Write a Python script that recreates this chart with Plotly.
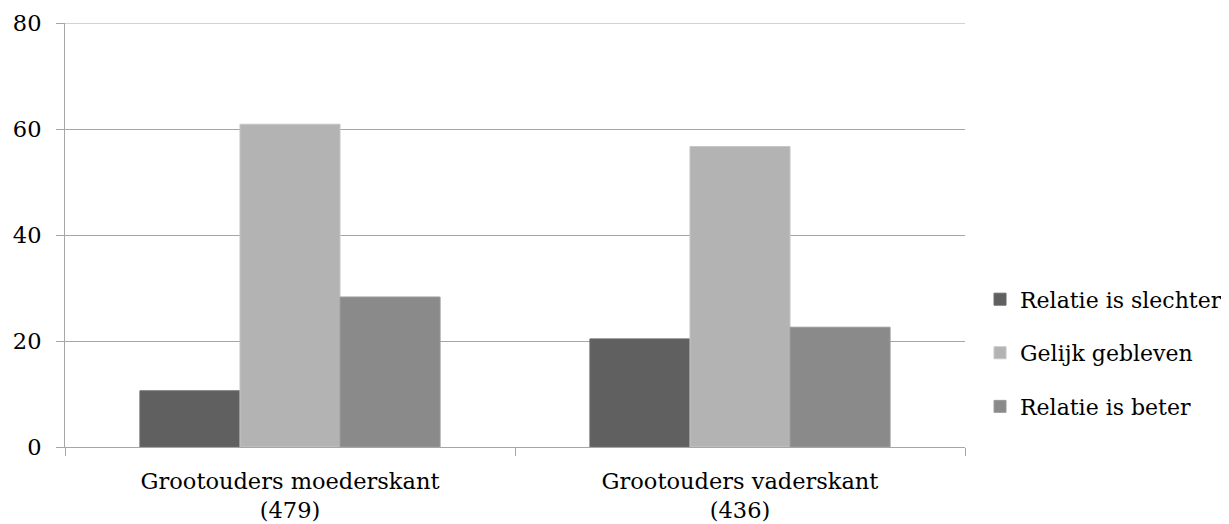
import plotly.graph_objects as go

categories = ["Grootouders moederskant<br>(479)", "Grootouders vaderskant<br>(436)"]
series_names = ["Relatie is slechter", "Gelijk gebleven", "Relatie is beter"]
slechter = [10.6, 20.4]
gelijk = [60.9, 56.7]
beter = [28.3, 22.6]
y_ticks = [0, 20, 40, 60, 80]

colors = ["#606060", "#b3b3b3", "#8a8a8a"]
line_colors = ["#6a6a6a", "#c6c6c6", "#9a9a9a"]
FONT = "DejaVu Serif"
GRID = "#a6a6a6"

fig = go.Figure()
for i, (name, vals) in enumerate(zip(series_names, [slechter, gelijk, beter])):
    fig.add_trace(go.Bar(
        x=categories, y=vals, name=name,
        marker=dict(color=colors[i], line=dict(color=line_colors[i], width=1)),
        legendgroup=f"g{i}",
    ))

# top gridline (plotly drops the gridline at the range edge)
fig.add_shape(type="line", xref="paper", yref="y", x0=0, x1=1, y0=80, y1=80,
              line=dict(color=GRID, width=1), layer="below")

# the page body has an 8px margin: the figure starts 8px right/down in the window
fig.update_layout(
    width=1229, height=516,
    margin=dict(l=57, r=272, t=15, b=77, autoexpand=False),
    paper_bgcolor="white", plot_bgcolor="white",
    barmode="group", bargap=0.333, bargroupgap=0,
    font=dict(family=FONT, size=22.5, color="black"),
    legend=dict(
        x=1.0167, xanchor="left", y=0.222, yanchor="middle",
        traceorder="grouped", tracegroupgap=22,
        font=dict(family=FONT, size=22, color="black"),
        bgcolor="rgba(0,0,0,0)",
    ),
    showlegend=True,
)
fig.update_yaxes(
    range=[0, 80], tickvals=y_ticks,
    showgrid=True, gridcolor=GRID, gridwidth=1,
    showline=True, linecolor=GRID, linewidth=1,
    ticks="outside", ticklen=8, tickcolor=GRID,
    ticklabelstandoff=10, zeroline=False, automargin=False,
)
fig.update_xaxes(
    showline=True, linecolor=GRID, linewidth=1,
    ticks="outside", ticklen=8, tickcolor=GRID,
    tickson="boundaries", showgrid=False,
    ticklabelstandoff=14, automargin=False,
)

fig.write_html("out.html")
